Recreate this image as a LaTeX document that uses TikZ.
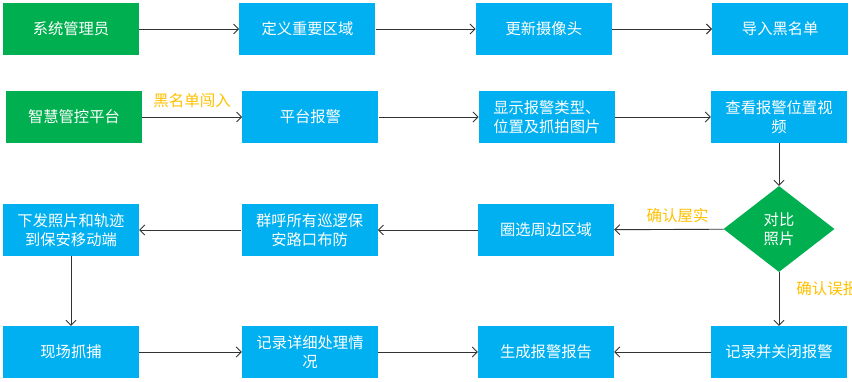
\documentclass[tikz,border=0pt]{standalone}
\usepackage{fontspec}
\newfontfamily\cjk{Noto Sans CJK SC}
\usepackage{tikz}
\usetikzlibrary{arrows.meta,positioning,shapes.geometric}
\definecolor{boxgreen}{HTML}{00B050}
\definecolor{boxblue}{HTML}{00B0F0}
\definecolor{labgold}{HTML}{FFC000}
\definecolor{linegray}{HTML}{333333}

\begin{document}
\begin{tikzpicture}[
  x=1pt, y=-1pt,
  node distance=100pt,
  box/.style={fill=boxblue, text=white, align=center, inner sep=0pt,
    minimum width=136pt, minimum height=52pt, font=\cjk\fontsize{15.3pt}{19.5pt}\selectfont},
  greenbox/.style={box, fill=boxgreen},
  choice/.style={diamond, fill=boxgreen, text=white, align=center, inner sep=0pt,
    minimum width=111pt, minimum height=86pt, font=\cjk\fontsize{15.3pt}{19.5pt}\selectfont},
  arr/.style={-{Straight Barb[length=5pt,width=10pt]}, draw=linegray, line width=0.9pt},
  lab/.style={text=labgold, font=\cjk\fontsize{15.5pt}{18pt}\selectfont, inner sep=1pt}
]
\useasboundingbox (0,0) rectangle (852,382);
% row 1
\node[greenbox] (admin) at (71,29) {系统管理员};
\node[box, right=of admin] (zone) {定义重要区域};
\node[box, right=of zone] (camera) {更新摄像头};
\node[box, right=of camera] (blacklist) {导入黑名单};
\draw[arr] (admin) -- (zone);
\draw[arr] (zone) -- (camera);
\draw[arr] (camera) -- (blacklist);
% row 2
\node[greenbox] (platform) at (74,117) {智慧管控平台};
\node[box, right=of platform] (alarm) {平台报警};
\node[box, right=of alarm] (showinfo) {显示报警类型、\\位置及抓拍图片};
\node[box] (video) at (779,117) {查看报警位置视\\频};
\draw[arr] (platform) -- node[lab, above=8pt] {黑名单闯入} (alarm);
\draw[arr] (alarm) -- (showinfo);
\draw[arr] (showinfo) -- (video);
% row 3
\node[choice] (compare) at (779,229) {对比\\照片};
\node[box] (region) at (546,230) {圈选周边区域};
\node[box, left=of region] (callall) {群呼所有巡逻保\\安路口布防};
\node[box] (sendphoto) at (71,230) {下发照片和轨迹\\到保安移动端};
\draw[arr] (video) -- (compare);
\draw[arr] (compare) -- node[lab, pos=0.42, above=5pt] {确认屋实} (region);
\draw[arr] (region) -- (callall);
\draw[arr] (callall) -- (sendphoto);
% row 4
\node[box] (capture) at (71,352) {现场抓捕};
\node[box] (record) at (310,352) {记录详细处理情\\况};
\node[box] (report) at (546,352) {生成报警报告};
\node[box] (closealarm) at (779,352) {记录并关闭报警};
\draw[arr] (sendphoto) -- (capture);
\draw[arr] (capture) -- (record);
\draw[arr] (record) -- (report);
\draw[arr] (compare) -- node[lab, pos=0.3, right=16pt] {确认误报} (closealarm);
\draw[arr] (closealarm) -- (report);
\end{tikzpicture}
\end{document}
